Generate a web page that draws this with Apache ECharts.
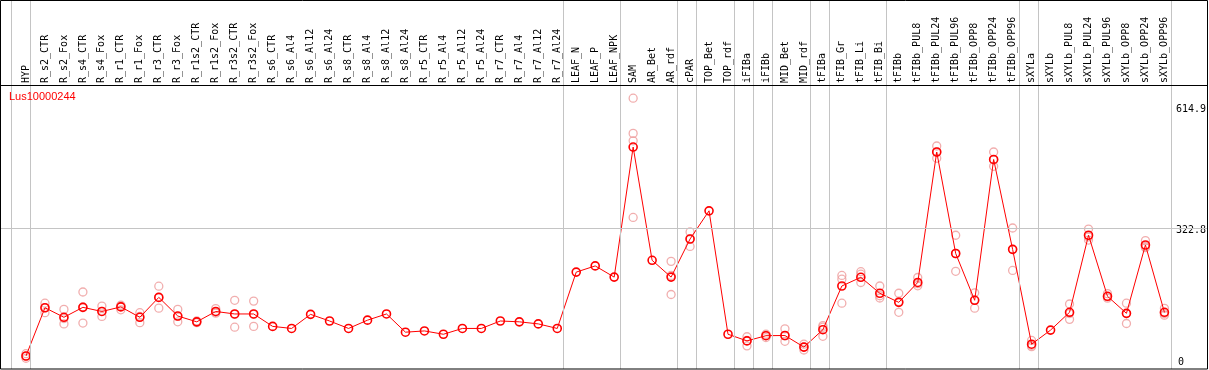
<!DOCTYPE html>
<html>
<head>
<meta charset="utf-8">
<script src="https://cdn.jsdelivr.net/npm/echarts@6/dist/echarts.min.js"></script>
<style>
html,body{margin:0;padding:0;background:#fff;}
#chart{width:1209px;height:370px;}
</style>
</head>
<body>
<div id="chart"></div>
<script>
const title = 'Lus10000244';
const categories = ['HYP','R_s2_CTR','R_s2_Fox','R_s4_CTR','R_s4_Fox','R_r1_CTR','R_r1_Fox','R_r3_CTR','R_r3_Fox','R_r1s2_CTR','R_r1s2_Fox','R_r3s2_CTR','R_r3s2_Fox','R_s6_CTR','R_s6_Al4','R_s6_Al12','R_s6_Al24','R_s8_CTR','R_s8_Al4','R_s8_Al12','R_s8_Al24','R_r5_CTR','R_r5_Al4','R_r5_Al12','R_r5_Al24','R_r7_CTR','R_r7_Al4','R_r7_Al12','R_r7_Al24','LEAF_N','LEAF_P','LEAF_NPK','SAM','AR_Bet','AR_rdf','cPAR','TOP_Bet','TOP_rdf','iFIBa','iFIBb','MID_Bet','MID_rdf','tFIBa','tFIB_Gr','tFIB_Li','tFIB_Bi','tFIBb','tFIBb_PUL8','tFIBb_PUL24','tFIBb_PUL96','tFIBb_OPP8','tFIBb_OPP24','tFIBb_OPP96','sXYLa','sXYLb','sXYLb_PUL8','sXYLb_PUL24','sXYLb_PUL96','sXYLb_OPP8','sXYLb_OPP24','sXYLb_OPP96'];
const means = [14.5,131,108,132,122,133,108,156,111,97,122,116,116,86,81,115,99,81,101,116,72,75,67,81,81,99,97,92,81,217,232,205,519,245.5,205,297,365,67,51,63.5,64,36,78,183.5,204.5,166,144,192,507,262,149,489,272,43,77,120,306,158.6,117.5,282.5,120];
const replicates = [[9,14,20],[119,131,142],[92,105,127],[94,133,169],[110,122,135],[126,135,137],[95,110,119],[130,156,183],[97,110,127],[95,97,99],[118,120,129],[84,115,149],[86,115,147],
  [],[],[],[],[],[],[],[],[],[],[],[],[],[],[],[],[],[],[],
  [349,534,552,637],[],[163,209,243],[279,297,314],[],[],[39,52,61],[59,64,67],[50,63,80],[29,36,43],[62,84,88],[142,200,209],[192,212,218],[154.5,160,183.5],[120,146,166],[184,189,204],[492,507,521.5],[219,262,306],[130,150,167],[472.5,488,507],[221,272,323.5],[37,40,52],[],[103,117,140],[294.5,302,321],[154,157,165],[93,117,142],[276,279,293],[113,117,129.6]];
const yTickValues = [0, 322.8, 614.9];
const refLineValue = 322.8;
const groupEnds = [-1, 0, 28, 31, 34, 35, 37, 38, 39, 41, 42, 45, 52, 53, 60];

const repData = [];
replicates.forEach((arr, i) => arr.forEach(v => repData.push([i, v])));

const chart = echarts.init(document.getElementById('chart'), null, {renderer: 'canvas'});
chart.setOption({
  animation: false,
  backgroundColor: '#fff',
  title: {
    text: title, left: 9, top: 91, padding: 0,
    textStyle: {color: '#ff0000', fontSize: 11, fontWeight: 'normal', fontFamily: 'Liberation Sans'}
  },
  grid: [
    {left: 16.5, width: 1159, top: 85, height: 284},
    {left: 0, width: 1208, top: 0, height: 369}
  ],
  xAxis: [
    {
      type: 'category', gridIndex: 0, data: categories, position: 'top', boundaryGap: true,
      axisLine: {show: false}, axisTick: {show: false}, splitLine: {show: false},
      axisLabel: {interval: 0, rotate: 90, margin: 2, fontFamily: 'DejaVu Sans Mono', fontSize: 10, color: '#000'}
    },
    {type: 'value', gridIndex: 1, min: -1.368, max: 62.21, show: false}
  ],
  yAxis: [
    {
      type: 'value', gridIndex: 0, position: 'right', min: -16.9, max: 668.8,
      axisLine: {show: false}, axisTick: {show: false}, splitLine: {show: false},
      axisLabel: {
        customValues: yTickValues, margin: 2, color: '#000', fontFamily: 'DejaVu Sans Mono', fontSize: 10,
        align: 'left', verticalAlign: 'middle',
        formatter: v => v === 0 ? '{z|0}' : '{a|' + v + '}',
        rich: {a: {padding: [5, 0, 0, 0], fontFamily: 'DejaVu Sans Mono', fontSize: 10}, z: {padding: [0, 0, 0, 2], fontFamily: 'DejaVu Sans Mono', fontSize: 10}}
      }
    },
    {type: 'value', gridIndex: 1, min: -16.9, max: 874, show: false}
  ],
  series: [
    {
      type: 'line', xAxisIndex: 1, yAxisIndex: 1, data: [], silent: true,
      markLine: {
        silent: true, symbol: 'none', animation: false,
        label: {show: false},
        lineStyle: {color: '#c4c4c4', width: 1, type: 'solid'},
        emphasis: {disabled: true},
        data: groupEnds.map(g => ({xAxis: g + 0.25})).concat([{yAxis: refLineValue}])
      }
    },
    {
      type: 'scatter', xAxisIndex: 0, yAxisIndex: 0, data: repData, symbol: 'circle', symbolSize: 8,
      itemStyle: {color: 'rgba(0,0,0,0)', borderColor: '#ee9a9a', borderWidth: 1.3}, z: 3
    },
    {
      type: 'line', xAxisIndex: 0, yAxisIndex: 0, data: means, symbol: 'circle', symbolSize: 8,
      lineStyle: {color: '#ff0000', width: 1},
      itemStyle: {color: 'rgba(0,0,0,0)', borderColor: '#ff0000', borderWidth: 1.6}, z: 4
    }
  ],
  graphic: [
    {type: 'rect', shape: {x: 0.5, y: 0.5, width: 1207, height: 368.5}, style: {fill: null, stroke: '#000', lineWidth: 1}, z: 10, silent: true},
    {type: 'line', shape: {x1: 0, y1: 85.5, x2: 1208, y2: 85.5}, style: {stroke: '#000', lineWidth: 1}, z: 10, silent: true}
  ]
});
</script>
</body>
</html>
